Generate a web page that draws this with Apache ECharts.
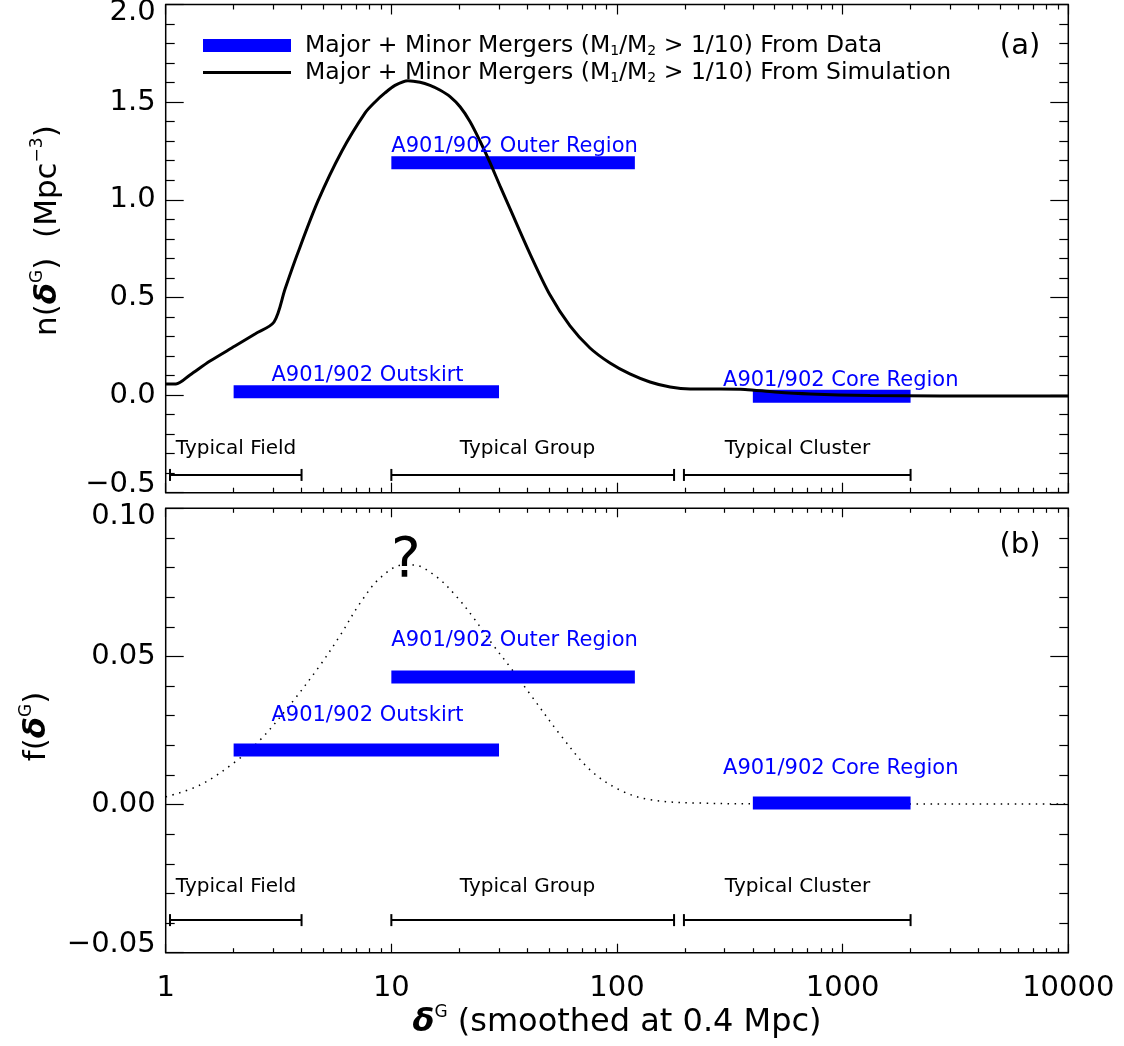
<!DOCTYPE html>
<html><head><meta charset="utf-8">
<script src="https://cdn.jsdelivr.net/npm/echarts@6/dist/echarts.min.js"></script>
<style>html,body{margin:0;padding:0;background:#fff}#c{width:1124px;height:1046px}</style>
</head><body><div id="c"></div>
<script>
// ---------- data ----------
const legendNames = ['Major + Minor Mergers (M1/M2 > 1/10) From Data',
                     'Major + Minor Mergers (M1/M2 > 1/10) From Simulation'];
// panel (a): simulated number density n(delta)
const simX = [1, 1.11, 1.281, 1.572, 2.028, 2.487, 3.02, 3.38, 3.82, 4.73, 6.04, 7.64, 8.47, 9.37, 10.38, 11.85, 13.4, 14.84, 16.4, 18.2, 20.2, 22.3, 24.7, 27.4, 30.3, 33.6, 41.2, 50.5, 61.9, 75.9, 93.1, 114, 140, 172, 211, 286, 369, 501, 717, 1322, 2700, 10000];
const simY = [0.057, 0.057, 0.103, 0.174, 0.251, 0.313, 0.374, 0.543, 0.717, 0.994, 1.25, 1.444, 1.501, 1.547, 1.586, 1.610, 1.602, 1.586, 1.562, 1.528, 1.475, 1.401, 1.301, 1.189, 1.071, 0.953, 0.722, 0.512, 0.354, 0.241, 0.164, 0.108, 0.067, 0.041, 0.031, 0.031, 0.029, 0.016, 0.006, -0.002, -0.005, -0.005];
// panel (b): fraction f(delta)
const fracX = [1, 1.42, 2.03, 2.62, 3.56, 4.83, 5.92, 7.27, 8.92, 11.3, 12.5, 15.9, 19.5, 23.0, 28.2, 33.6, 42.1, 56.0, 76, 103, 141, 233, 650, 10000];
const fracY = [0.0026, 0.0066, 0.0144, 0.0218, 0.0337, 0.047, 0.057, 0.068, 0.0765, 0.0809, 0.0809, 0.0768, 0.0701, 0.0633, 0.0539, 0.0464, 0.0363, 0.0236, 0.0117, 0.0049, 0.0016, 0.0005, 0.0002, 0.0002];
// A901/902 regions (data)
const regionNames = ['A901/902 Outskirt', 'A901/902 Outer Region', 'A901/902 Core Region'];
const regionRanges = [[2, 30], [10, 120], [400, 2000]];
const regionN = [0.017, 1.19, -0.006];
const regionF = [0.0184, 0.0431, 0.0005];
const regionLabelX = [7.84, 10, 295];
const regionLabelN = [0.10, 1.275, 0.072];
const regionLabelF = [0.030, 0.0552, 0.0121];
// typical environments
const typicalNames = ['Typical Field', 'Typical Group', 'Typical Cluster'];
const typicalRanges = [[1.045, 4], [10, 179], [198, 2000]];
const typicalLabelX = [2.05, 40.1, 631];
const typicalLineN = -0.409, typicalLabelN = -0.276;
const typicalLineF = -0.039, typicalLabelF = -0.0278;
// annotations
const panelTags = ['(a)', '(b)'];
const panelTagX = 6110, panelTagN = 1.787, panelTagF = 0.0876;
const questionX = 11.6, questionF = 0.0822;
// ticks
const xMajor = [1, 10, 100, 1000, 10000];
const xMinor = [];
for (const d of [1, 10, 100, 1000]) for (let k = 2; k <= 9; k++) xMinor.push(k * d);

// ---------- chart ----------
const FONT = 'DejaVu Sans';
const BLUE = '#0000ff';
const chart = echarts.init(document.getElementById('c'));

function xAx(grid, pos, ticks, len, withLabel) {
  const ax = {
    type: 'log', logBase: 10, gridIndex: grid, position: pos, min: 1, max: 10000,
    axisLine: { show: false, onZero: false }, splitLine: { show: false },
    axisTick: { show: true, inside: true, length: len, customValues: ticks, lineStyle: { color: '#000', width: 1.2 } },
    axisLabel: { show: false }
  };
  if (withLabel) {
    ax.axisLabel = { show: true, formatter: v => String(Math.round(v)), fontSize: 29, color: '#000', fontFamily: FONT, margin: 21 };
    ax.name = '{d|δ}{sup|G} (smoothed at 0.4 Mpc)';
    ax.nameLocation = 'middle';
    ax.nameGap = 50;
    ax.nameTextStyle = { fontSize: 32, color: '#000', fontFamily: FONT, lineHeight: 38,
      rich: { d: { fontSize: 32, fontStyle: 'italic', fontWeight: 'bold', fontFamily: FONT },
              sup: { fontSize: 17, verticalAlign: 'top', fontFamily: FONT } } };
  }
  return ax;
}
function fmt(dec, min, max) {
  return v => {
    const s = (v < -1e-12 ? '−' : '') + Math.abs(v).toFixed(dec);
    if (Math.abs(v - max) < 1e-9) return '{t|' + s + '}';
    if (Math.abs(v - min) < 1e-9) return '{b|' + s + '}';
    return s;
  };
}
function yAx(grid, pos, min, max, interval, dec, name, namePad) {
  const lab = pos === 'left';
  const ax = {
    type: 'value', gridIndex: grid, position: pos, min: min, max: max, interval: interval,
    axisLine: { show: false, onZero: false }, splitLine: { show: false },
    axisTick: { show: true, inside: true, length: 18, lineStyle: { color: '#000', width: 1.2 } },
    minorTick: { show: true, splitNumber: 5, length: 9, lineStyle: { color: '#000', width: 1.2 } },
    axisLabel: lab ? { show: true, formatter: fmt(dec, min, max), fontSize: 29, color: '#000', fontFamily: FONT, margin: 10,
      rich: { t: { padding: [16, 0, 0, 0], fontSize: 29, fontFamily: FONT }, b: { padding: [0, 0, 16, 0], fontSize: 29, fontFamily: FONT } } } : { show: false }
  };
  if (lab) {
    ax.name = name; ax.nameLocation = 'middle'; ax.nameGap = 99;
    ax.nameTextStyle = { fontSize: 31, color: '#000', fontFamily: FONT, lineHeight: 38, padding: namePad,
      rich: { d: { fontSize: 31, fontStyle: 'italic', fontWeight: 'bold', fontFamily: FONT },
              sup: { fontSize: 17, verticalAlign: 'top', fontFamily: FONT } } };
  }
  return ax;
}

function barItem(params, api) {
  const a = api.coord([api.value(0), api.value(2)]);
  const b = api.coord([api.value(1), api.value(2)]);
  return { type: 'rect', shape: { x: a[0], y: a[1] - 6.5, width: b[0] - a[0], height: 13 }, style: { fill: BLUE } };
}
function rangeItem(params, api) {
  const a = api.coord([api.value(0), api.value(2)]);
  const b = api.coord([api.value(1), api.value(2)]);
  const st = { stroke: '#000', lineWidth: 2 };
  return { type: 'group', children: [
    { type: 'line', shape: { x1: a[0], y1: a[1], x2: b[0], y2: b[1] }, style: st },
    { type: 'line', shape: { x1: a[0], y1: a[1] - 6, x2: a[0], y2: a[1] + 6 }, style: st },
    { type: 'line', shape: { x1: b[0], y1: b[1] - 6, x2: b[0], y2: b[1] + 6 }, style: st } ] };
}
function textSeries(xi, yi, items) {
  return { type: 'scatter', xAxisIndex: xi, yAxisIndex: yi, symbolSize: 0, silent: true, z: 5,
    itemStyle: { opacity: 1 },
    data: items.map(it => ({ value: [it.x, it.y], label: Object.assign({ show: true, formatter: it.text, position: it.pos || 'inside', distance: 0, fontFamily: FONT, color: '#000', opacity: 1 }, it.style) })) };
}
const blueStyle = { color: BLUE, fontSize: 21 };
const blackStyle = { color: '#000', fontSize: 20 };
const regionPos = ['inside', 'right', 'right'];

function panelTexts(regionY, typY, tag, tagY) {
  const items = [];
  regionNames.forEach((n, i) => items.push({ x: regionLabelX[i], y: regionY[i], text: n, pos: regionPos[i], style: blueStyle }));
  typicalNames.forEach((n, i) => items.push({ x: typicalLabelX[i], y: typY, text: n, style: blackStyle }));
  items.push({ x: panelTagX, y: tagY, text: tag, style: { fontSize: 29, color: '#000' } });
  return items;
}
const textsA = panelTexts(regionLabelN, typicalLabelN, panelTags[0], panelTagN);
const textsB = panelTexts(regionLabelF, typicalLabelF, panelTags[1], panelTagF);
textsB.push({ x: questionX, y: questionF, text: '?', style: { fontSize: 56, color: '#000' } });

const lineIcon = 'path://M0,0 L0.01,0 L0.01,0.01 Z M0,5 L88,5 L88,8 L0,8 Z M0,13 L0.01,13 L0.01,12.99 Z';

const option = {
  animation: false,
  backgroundColor: '#fff',
  grid: [
    { left: 165.7, top: 4.5, width: 902.6, height: 488.2, show: true, borderColor: '#000', borderWidth: 1.5, backgroundColor: 'transparent', outerBoundsMode: 'none' },
    { left: 165.7, top: 508.3, width: 902.6, height: 444.4, show: true, borderColor: '#000', borderWidth: 1.5, backgroundColor: 'transparent', outerBoundsMode: 'none' }
  ],
  xAxis: [
    xAx(0, 'bottom', xMajor, 10, false), xAx(0, 'bottom', xMinor, 5, false),
    xAx(0, 'top', xMajor, 10, false), xAx(0, 'top', xMinor, 5, false),
    xAx(1, 'bottom', xMajor, 9, true), xAx(1, 'bottom', xMinor, 4.5, false),
    xAx(1, 'top', xMajor, 9, false), xAx(1, 'top', xMinor, 4.5, false)
  ],
  yAxis: [
    yAx(0, 'left', -0.5, 2.0, 0.5, 1, 'n({d|δ}{sup|G})  (Mpc{sup|−3})', [0, 0, 0, 36]),
    yAx(0, 'right', -0.5, 2.0, 0.5, 1),
    yAx(1, 'left', -0.05, 0.10, 0.05, 2, 'f({d|δ}{sup|G})', [0, 0, 0, 8]),
    yAx(1, 'right', -0.05, 0.10, 0.05, 2)
  ],
  legend: {
    orient: 'vertical', left: 203, top: 33, padding: 0, itemWidth: 88, itemHeight: 13, itemGap: 2,
    selectedMode: false,
    data: [{ name: legendNames[0], icon: 'rect' }, { name: legendNames[1], icon: lineIcon }],
    formatter: n => n.replace(/M([12])/g, 'M{sub|$1}'),
    textStyle: { fontSize: 23.5, color: '#000', fontFamily: FONT, lineHeight: 25, padding: [0, 0, 0, 9],
      rich: { sub: { fontSize: 14, verticalAlign: 'bottom', fontFamily: FONT } } }
  },
  series: [
    { name: legendNames[1], type: 'line', xAxisIndex: 0, yAxisIndex: 0, symbol: 'none', smooth: 0.3,
      lineStyle: { color: '#000', width: 3 }, itemStyle: { color: '#000' }, z: 3,
      data: simX.map((x, i) => [x, simY[i]]) },
    { name: legendNames[0], type: 'custom', xAxisIndex: 0, yAxisIndex: 0, renderItem: barItem, itemStyle: { color: BLUE },
      encode: { x: [0, 1], y: 2 }, z: 2,
      data: regionRanges.map((r, i) => [r[0], r[1], regionN[i]]) },
    { name: 'typicalA', type: 'custom', xAxisIndex: 0, yAxisIndex: 0, renderItem: rangeItem, encode: { x: [0, 1], y: 2 },
      data: typicalRanges.map(r => [r[0], r[1], typicalLineN]) },
    textSeries(0, 0, textsA),

    { name: 'fraction', type: 'line', xAxisIndex: 4, yAxisIndex: 2, symbol: 'none', smooth: 0.35,
      lineStyle: { color: '#000', width: 1.5, type: [1.5, 5.5] }, z: 1,
      data: fracX.map((x, i) => [x, fracY[i]]) },
    { name: legendNames[0], type: 'custom', xAxisIndex: 4, yAxisIndex: 2, renderItem: barItem, itemStyle: { color: BLUE },
      encode: { x: [0, 1], y: 2 }, z: 2,
      data: regionRanges.map((r, i) => [r[0], r[1], regionF[i]]) },
    { name: 'typicalB', type: 'custom', xAxisIndex: 4, yAxisIndex: 2, renderItem: rangeItem, encode: { x: [0, 1], y: 2 },
      data: typicalRanges.map(r => [r[0], r[1], typicalLineF]) },
    textSeries(4, 2, textsB)
  ]
};
chart.setOption(option);
</script>
</body></html>
